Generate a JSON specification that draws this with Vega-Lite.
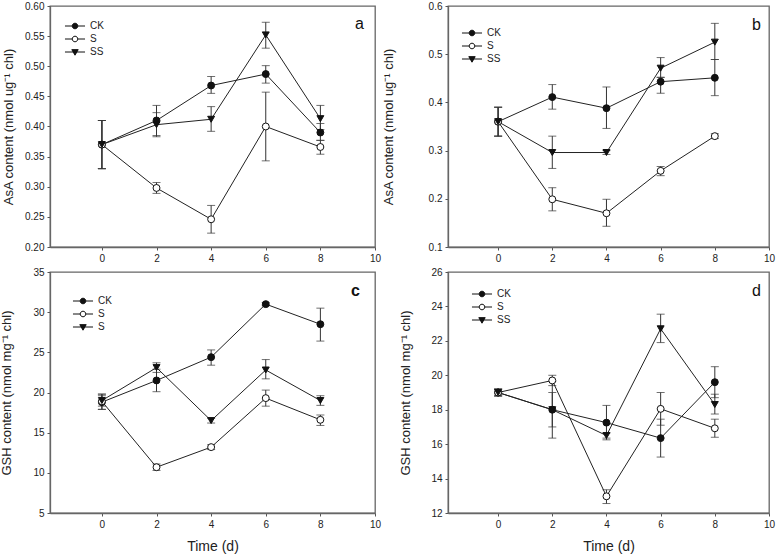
{
  "$schema": "https://vega.github.io/schema/vega-lite/v6.json",
  "padding": 0,
  "background": "white",
  "config": {
    "font": "Liberation Sans",
    "view": {"stroke": "#666", "strokeWidth": 1.3},
    "axis": {"domainColor": "#666", "domainWidth": 1.3, "tickColor": "#555", "tickSize": 3, "labelFont": "Liberation Sans", "labelFontSize": 10, "labelColor": "#222", "labelPadding": 3, "labelFlush": false, "titleFont": "Liberation Sans", "titleFontWeight": "normal", "titleFontSize": 13, "titleColor": "#222", "grid": false},
    "legend": {"orient": "none", "title": null, "padding": 0, "labelFont": "Liberation Sans", "labelFontSize": 10, "labelColor": "#222", "labelOffset": 10, "symbolSize": 31, "symbolStrokeColor": "#111", "symbolStrokeWidth": 1, "symbolOpacity": 1, "rowPadding": 3},
    "title": {"font": "Liberation Sans", "fontSize": 16, "fontWeight": "normal", "color": "#111", "anchor": "end", "frame": "group", "baseline": "alphabetic"}
  },
  "columns": 2,
  "spacing": {"row": 25, "column": 73},
  "bounds": "flush",
  "datasets": {
    "a": [
      {"series": "CK", "t": 0, "v": 0.37, "lo": 0.33, "hi": 0.41},
      {"series": "CK", "t": 2, "v": 0.41, "lo": 0.385, "hi": 0.435},
      {"series": "CK", "t": 4, "v": 0.468, "lo": 0.455, "hi": 0.483},
      {"series": "CK", "t": 6, "v": 0.487, "lo": 0.472, "hi": 0.501},
      {"series": "CK", "t": 8, "v": 0.39, "lo": 0.377, "hi": 0.405},
      {"series": "S", "t": 0, "v": 0.37, "lo": 0.33, "hi": 0.41},
      {"series": "S", "t": 2, "v": 0.298, "lo": 0.289, "hi": 0.307},
      {"series": "S", "t": 4, "v": 0.246, "lo": 0.223, "hi": 0.269},
      {"series": "S", "t": 6, "v": 0.4, "lo": 0.343, "hi": 0.457},
      {"series": "S", "t": 8, "v": 0.366, "lo": 0.354, "hi": 0.377},
      {"series": "SS", "t": 0, "v": 0.37, "lo": 0.33, "hi": 0.41},
      {"series": "SS", "t": 2, "v": 0.403, "lo": 0.383, "hi": 0.423},
      {"series": "SS", "t": 4, "v": 0.412, "lo": 0.392, "hi": 0.433},
      {"series": "SS", "t": 6, "v": 0.552, "lo": 0.53, "hi": 0.573},
      {"series": "SS", "t": 8, "v": 0.413, "lo": 0.395, "hi": 0.435}
    ],
    "b": [
      {"series": "CK", "t": 0, "v": 0.36, "lo": 0.33, "hi": 0.39},
      {"series": "CK", "t": 2, "v": 0.411, "lo": 0.386, "hi": 0.437},
      {"series": "CK", "t": 4, "v": 0.388, "lo": 0.346, "hi": 0.432},
      {"series": "CK", "t": 6, "v": 0.443, "lo": 0.419, "hi": 0.452},
      {"series": "CK", "t": 8, "v": 0.451, "lo": 0.414, "hi": 0.489},
      {"series": "S", "t": 0, "v": 0.36, "lo": 0.33, "hi": 0.39},
      {"series": "S", "t": 2, "v": 0.199, "lo": 0.175, "hi": 0.223},
      {"series": "S", "t": 4, "v": 0.17, "lo": 0.143, "hi": 0.199},
      {"series": "S", "t": 6, "v": 0.258, "lo": 0.248, "hi": 0.267},
      {"series": "S", "t": 8, "v": 0.33, "lo": 0.325, "hi": 0.335},
      {"series": "SS", "t": 0, "v": 0.36, "lo": 0.33, "hi": 0.39},
      {"series": "SS", "t": 2, "v": 0.296, "lo": 0.263, "hi": 0.33},
      {"series": "SS", "t": 4, "v": 0.296, "lo": 0.292, "hi": 0.3},
      {"series": "SS", "t": 6, "v": 0.471, "lo": 0.452, "hi": 0.493},
      {"series": "SS", "t": 8, "v": 0.525, "lo": 0.489, "hi": 0.564}
    ],
    "c": [
      {"series": "CK", "t": 0, "v": 18.8, "lo": 17.9, "hi": 19.8},
      {"series": "CK", "t": 2, "v": 21.5, "lo": 20.1, "hi": 22.9},
      {"series": "CK", "t": 4, "v": 24.4, "lo": 23.4, "hi": 25.3},
      {"series": "CK", "t": 6, "v": 31.0, "lo": 30.8, "hi": 31.2},
      {"series": "CK", "t": 8, "v": 28.5, "lo": 26.4, "hi": 30.5},
      {"series": "S", "t": 0, "v": 18.9, "lo": 17.9, "hi": 19.8},
      {"series": "S", "t": 2, "v": 10.7, "lo": 10.3, "hi": 11.1},
      {"series": "S", "t": 4, "v": 13.2, "lo": 12.9, "hi": 13.5},
      {"series": "S", "t": 6, "v": 19.3, "lo": 18.3, "hi": 20.3},
      {"series": "S", "t": 8, "v": 16.6, "lo": 15.9, "hi": 17.2},
      {"series": "SS", "t": 0, "v": 19.0, "lo": 18.3, "hi": 19.6},
      {"series": "SS", "t": 2, "v": 23.1, "lo": 22.5, "hi": 23.7},
      {"series": "SS", "t": 4, "v": 16.5, "lo": 16.2, "hi": 16.8},
      {"series": "SS", "t": 6, "v": 22.8, "lo": 21.7, "hi": 24.1},
      {"series": "SS", "t": 8, "v": 19.0, "lo": 18.4, "hi": 19.6}
    ],
    "d": [
      {"series": "CK", "t": 0, "v": 19.0, "lo": 18.8, "hi": 19.2},
      {"series": "CK", "t": 2, "v": 18.0, "lo": 17.0, "hi": 19.0},
      {"series": "CK", "t": 4, "v": 17.25, "lo": 16.25, "hi": 18.25},
      {"series": "CK", "t": 6, "v": 16.35, "lo": 15.25, "hi": 17.45},
      {"series": "CK", "t": 8, "v": 19.6, "lo": 18.7, "hi": 20.5},
      {"series": "S", "t": 0, "v": 19.0, "lo": 18.8, "hi": 19.2},
      {"series": "S", "t": 2, "v": 19.7, "lo": 19.4, "hi": 20.0},
      {"series": "S", "t": 4, "v": 12.97, "lo": 12.55, "hi": 13.35},
      {"series": "S", "t": 6, "v": 18.05, "lo": 17.1, "hi": 19.0},
      {"series": "S", "t": 8, "v": 16.92, "lo": 16.4, "hi": 17.45},
      {"series": "SS", "t": 0, "v": 19.0, "lo": 18.8, "hi": 19.2},
      {"series": "SS", "t": 2, "v": 18.0, "lo": 16.35, "hi": 19.65},
      {"series": "SS", "t": 4, "v": 16.5, "lo": 16.35, "hi": 16.65},
      {"series": "SS", "t": 6, "v": 22.7, "lo": 21.9, "hi": 23.55},
      {"series": "SS", "t": 8, "v": 18.3, "lo": 17.75, "hi": 18.9}
    ]
  },
  "concat": [
    {
      "width": 325, "height": 241,
      "data": {"name": "a"},
      "title": {"text": "a", "offset": -31, "dx": -11},
      "encoding": {
        "x": {"field": "t", "type": "quantitative", "scale": {"domain": [-1.9, 10], "nice": false, "zero": false}, "axis": {"title": null, "values": [0, 2, 4, 6, 8, 10]}},
        "y": {"field": "v", "type": "quantitative", "scale": {"domain": [0.2, 0.6], "nice": false, "zero": false}, "axis": {"title": "AsA content (nmol ug⁻¹ chl)", "titlePadding": 9, "values": [0.2, 0.25, 0.3, 0.35, 0.4, 0.45, 0.5, 0.55, 0.6], "format": ".2f"}}
      },
      "layer": [
        {"mark": {"type": "errorbar", "ticks": {"size": 8}, "color": "#333", "thickness": 1}, "encoding": {"y": {"field": "lo", "type": "quantitative", "scale": {"domain": [0.2, 0.6], "nice": false, "zero": false}, "axis": {"title": "AsA content (nmol ug⁻¹ chl)", "titlePadding": 9, "values": [0.2, 0.25, 0.3, 0.35, 0.4, 0.45, 0.5, 0.55, 0.6], "format": ".2f"}}, "y2": {"field": "hi"}}},
        {"mark": {"type": "line", "color": "#222", "strokeWidth": 1}, "encoding": {"detail": {"field": "series"}}},
        {"mark": {"type": "point", "filled": true, "size": 48, "stroke": "#111", "strokeWidth": 1, "opacity": 1}, "encoding": {
          "shape": {"field": "series", "type": "nominal", "scale": {"domain": ["CK", "S", "SS"], "range": ["circle", "circle", "triangle-down"]}, "legend": null},
          "fill": {"field": "series", "type": "nominal", "scale": {"domain": ["CK", "S", "SS"], "range": ["#111", "#fff", "#111"]}, "legend": null}}},
        {"transform": [{"filter": "datum.t > 100"}], "mark": {"type": "point", "filled": true, "stroke": "#111", "strokeWidth": 1, "opacity": 1}, "encoding": {
          "shape": {"field": "series", "type": "nominal", "scale": {"domain": ["CK", "S", "SS"], "range": ["M-3.6,0L-1,0M1,0L3.6,0M-1,0A1,1,0,1,1,1,0A1,1,0,1,1,-1,0Z", "M-3.6,0L-1,0M1,0L3.6,0M-1,0A1,1,0,1,1,1,0A1,1,0,1,1,-1,0Z", "M-3.6,0L3.6,0M-1.15,-0.85L1.15,-0.85L0,1.15Z"]}, "legend": {"legendX": 20, "legendY": 15, "encode": {"symbols": {"update": {"stroke": {"value": "#111"}, "strokeWidth": {"value": 1}}}}}},
          "fill": {"field": "series", "type": "nominal", "scale": {"domain": ["CK", "S", "SS"], "range": ["#111", "#fff", "#111"]}, "legend": {"legendX": 20, "legendY": 15, "encode": {"symbols": {"update": {"stroke": {"value": "#111"}, "strokeWidth": {"value": 1}}}}}}}}
      ],
      "resolve": {"scale": {"shape": "independent", "fill": "independent"}}
    },
    {
      "width": 321, "height": 241,
      "data": {"name": "b"},
      "title": {"text": "b", "offset": -32, "dx": -8},
      "encoding": {
        "x": {"field": "t", "type": "quantitative", "scale": {"domain": [-1.85, 10], "nice": false, "zero": false}, "axis": {"title": null, "values": [0, 2, 4, 6, 8, 10]}},
        "y": {"field": "v", "type": "quantitative", "scale": {"domain": [0.1, 0.6], "nice": false, "zero": false}, "axis": {"title": "AsA content (nmol ug⁻¹ chl)", "titlePadding": 33, "values": [0.1, 0.2, 0.3, 0.4, 0.5, 0.6], "format": ".1f"}}
      },
      "layer": [
        {"mark": {"type": "errorbar", "ticks": {"size": 8}, "color": "#333", "thickness": 1}, "encoding": {"y": {"field": "lo", "type": "quantitative", "scale": {"domain": [0.1, 0.6], "nice": false, "zero": false}, "axis": {"title": "AsA content (nmol ug⁻¹ chl)", "titlePadding": 33, "values": [0.1, 0.2, 0.3, 0.4, 0.5, 0.6], "format": ".1f"}}, "y2": {"field": "hi"}}},
        {"mark": {"type": "line", "color": "#222", "strokeWidth": 1}, "encoding": {"detail": {"field": "series"}}},
        {"mark": {"type": "point", "filled": true, "size": 48, "stroke": "#111", "strokeWidth": 1, "opacity": 1}, "encoding": {
          "shape": {"field": "series", "type": "nominal", "scale": {"domain": ["CK", "S", "SS"], "range": ["circle", "circle", "triangle-down"]}, "legend": null},
          "fill": {"field": "series", "type": "nominal", "scale": {"domain": ["CK", "S", "SS"], "range": ["#111", "#fff", "#111"]}, "legend": null}}},
        {"transform": [{"filter": "datum.t > 100"}], "mark": {"type": "point", "filled": true, "stroke": "#111", "strokeWidth": 1, "opacity": 1}, "encoding": {
          "shape": {"field": "series", "type": "nominal", "scale": {"domain": ["CK", "S", "SS"], "range": ["M-3.6,0L-1,0M1,0L3.6,0M-1,0A1,1,0,1,1,1,0A1,1,0,1,1,-1,0Z", "M-3.6,0L-1,0M1,0L3.6,0M-1,0A1,1,0,1,1,1,0A1,1,0,1,1,-1,0Z", "M-3.6,0L3.6,0M-1.15,-0.85L1.15,-0.85L0,1.15Z"]}, "legend": {"legendX": 19, "legendY": 22, "encode": {"symbols": {"update": {"stroke": {"value": "#111"}, "strokeWidth": {"value": 1}}}}}},
          "fill": {"field": "series", "type": "nominal", "scale": {"domain": ["CK", "S", "SS"], "range": ["#111", "#fff", "#111"]}, "legend": {"legendX": 19, "legendY": 22, "encode": {"symbols": {"update": {"stroke": {"value": "#111"}, "strokeWidth": {"value": 1}}}}}}}}
      ],
      "resolve": {"scale": {"shape": "independent", "fill": "independent"}}
    },
    {
      "width": 325, "height": 241,
      "data": {"name": "c"},
      "title": {"text": "c", "offset": -32, "dx": -15, "fontWeight": "bold"},
      "encoding": {
        "x": {"field": "t", "type": "quantitative", "scale": {"domain": [-1.9, 10], "nice": false, "zero": false}, "axis": {"title": "Time (d)", "titleFontSize": 14, "titlePadding": 10, "values": [0, 2, 4, 6, 8, 10]}},
        "y": {"field": "v", "type": "quantitative", "scale": {"domain": [5, 35], "nice": false, "zero": false}, "axis": {"title": "GSH content (nmol mg⁻¹ chl)", "titlePadding": 19, "values": [5, 10, 15, 20, 25, 30, 35]}}
      },
      "layer": [
        {"mark": {"type": "errorbar", "ticks": {"size": 8}, "color": "#333", "thickness": 1}, "encoding": {"y": {"field": "lo", "type": "quantitative", "scale": {"domain": [5, 35], "nice": false, "zero": false}, "axis": {"title": "GSH content (nmol mg⁻¹ chl)", "titlePadding": 19, "values": [5, 10, 15, 20, 25, 30, 35]}}, "y2": {"field": "hi"}}},
        {"mark": {"type": "line", "color": "#222", "strokeWidth": 1}, "encoding": {"detail": {"field": "series"}}},
        {"mark": {"type": "point", "filled": true, "size": 48, "stroke": "#111", "strokeWidth": 1, "opacity": 1}, "encoding": {
          "shape": {"field": "series", "type": "nominal", "scale": {"domain": ["CK", "S", "SS"], "range": ["circle", "circle", "triangle-down"]}, "legend": null},
          "fill": {"field": "series", "type": "nominal", "scale": {"domain": ["CK", "S", "SS"], "range": ["#111", "#fff", "#111"]}, "legend": null}}},
        {"transform": [{"filter": "datum.t > 100"}], "mark": {"type": "point", "filled": true, "stroke": "#111", "strokeWidth": 1, "opacity": 1}, "encoding": {
          "shape": {"field": "series", "type": "nominal", "scale": {"domain": ["CK", "S", "SS"], "range": ["M-3.6,0L-1,0M1,0L3.6,0M-1,0A1,1,0,1,1,1,0A1,1,0,1,1,-1,0Z", "M-3.6,0L-1,0M1,0L3.6,0M-1,0A1,1,0,1,1,1,0A1,1,0,1,1,-1,0Z", "M-3.6,0L3.6,0M-1.15,-0.85L1.15,-0.85L0,1.15Z"]}, "legend": {"legendX": 28, "legendY": 24, "labelExpr": "datum.label == 'SS' ? 'S' : datum.label", "encode": {"symbols": {"update": {"stroke": {"value": "#111"}, "strokeWidth": {"value": 1}}}}}},
          "fill": {"field": "series", "type": "nominal", "scale": {"domain": ["CK", "S", "SS"], "range": ["#111", "#fff", "#111"]}, "legend": {"legendX": 28, "legendY": 24, "labelExpr": "datum.label == 'SS' ? 'S' : datum.label", "encode": {"symbols": {"update": {"stroke": {"value": "#111"}, "strokeWidth": {"value": 1}}}}}}}}
      ],
      "resolve": {"scale": {"shape": "independent", "fill": "independent"}}
    },
    {
      "width": 321, "height": 241,
      "data": {"name": "d"},
      "title": {"text": "d", "offset": -32, "dx": -8},
      "encoding": {
        "x": {"field": "t", "type": "quantitative", "scale": {"domain": [-1.85, 10], "nice": false, "zero": false}, "axis": {"title": "Time (d)", "titleFontSize": 14, "titlePadding": 10, "values": [0, 2, 4, 6, 8, 10]}},
        "y": {"field": "v", "type": "quantitative", "scale": {"domain": [12, 26], "nice": false, "zero": false}, "axis": {"title": "GSH content (nmol mg⁻¹ chl)", "titlePadding": 18, "values": [12, 14, 16, 18, 20, 22, 24, 26]}}
      },
      "layer": [
        {"mark": {"type": "errorbar", "ticks": {"size": 8}, "color": "#333", "thickness": 1}, "encoding": {"y": {"field": "lo", "type": "quantitative", "scale": {"domain": [12, 26], "nice": false, "zero": false}, "axis": {"title": "GSH content (nmol mg⁻¹ chl)", "titlePadding": 18, "values": [12, 14, 16, 18, 20, 22, 24, 26]}}, "y2": {"field": "hi"}}},
        {"mark": {"type": "line", "color": "#222", "strokeWidth": 1}, "encoding": {"detail": {"field": "series"}}},
        {"mark": {"type": "point", "filled": true, "size": 48, "stroke": "#111", "strokeWidth": 1, "opacity": 1}, "encoding": {
          "shape": {"field": "series", "type": "nominal", "scale": {"domain": ["CK", "S", "SS"], "range": ["circle", "circle", "triangle-down"]}, "legend": null},
          "fill": {"field": "series", "type": "nominal", "scale": {"domain": ["CK", "S", "SS"], "range": ["#111", "#fff", "#111"]}, "legend": null}}},
        {"transform": [{"filter": "datum.t > 100"}], "mark": {"type": "point", "filled": true, "stroke": "#111", "strokeWidth": 1, "opacity": 1}, "encoding": {
          "shape": {"field": "series", "type": "nominal", "scale": {"domain": ["CK", "S", "SS"], "range": ["M-3.6,0L-1,0M1,0L3.6,0M-1,0A1,1,0,1,1,1,0A1,1,0,1,1,-1,0Z", "M-3.6,0L-1,0M1,0L3.6,0M-1,0A1,1,0,1,1,1,0A1,1,0,1,1,-1,0Z", "M-3.6,0L3.6,0M-1.15,-0.85L1.15,-0.85L0,1.15Z"]}, "legend": {"legendX": 29, "legendY": 17, "encode": {"symbols": {"update": {"stroke": {"value": "#111"}, "strokeWidth": {"value": 1}}}}}},
          "fill": {"field": "series", "type": "nominal", "scale": {"domain": ["CK", "S", "SS"], "range": ["#111", "#fff", "#111"]}, "legend": {"legendX": 29, "legendY": 17, "encode": {"symbols": {"update": {"stroke": {"value": "#111"}, "strokeWidth": {"value": 1}}}}}}}}
      ],
      "resolve": {"scale": {"shape": "independent", "fill": "independent"}}
    }
  ]
}
